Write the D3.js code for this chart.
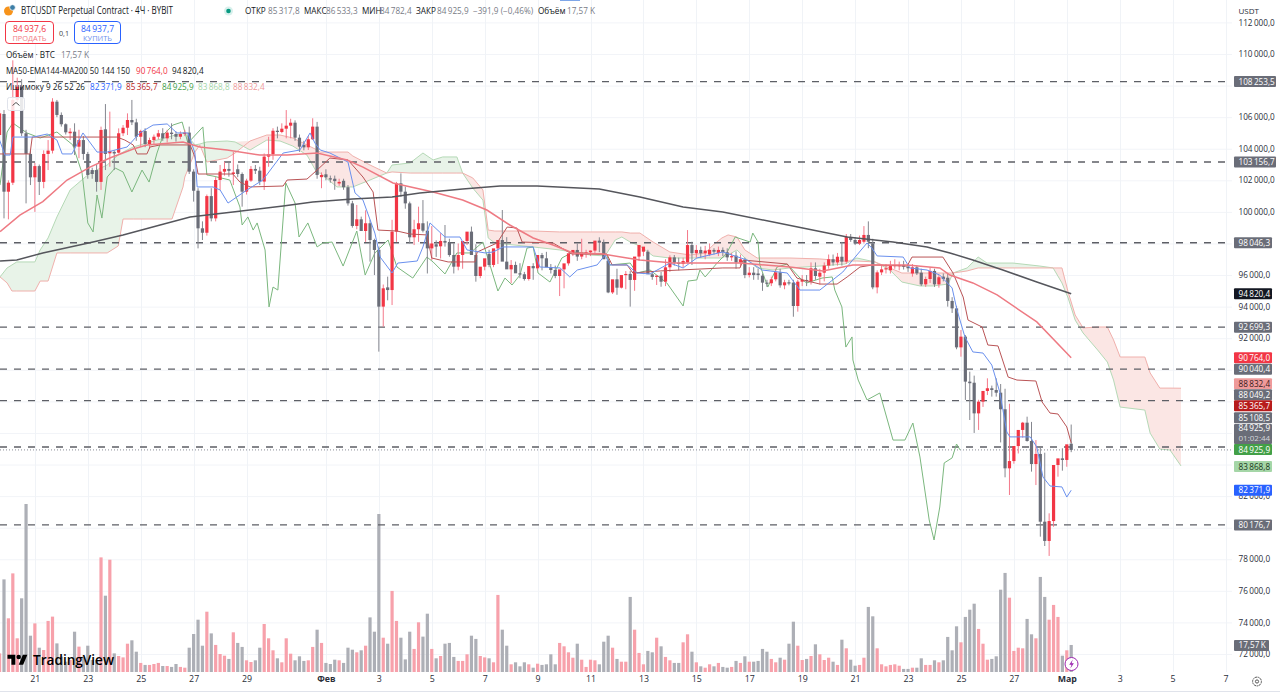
<!DOCTYPE html>
<html><head><meta charset="utf-8">
<script src="https://cdnjs.cloudflare.com/ajax/libs/d3/7.9.0/d3.min.js"></script>
<style>html,body{margin:0;padding:0;background:#fff;overflow:hidden}svg{display:block}text{font-family:"Open Sans","Noto Sans",sans-serif}</style>
</head><body><svg id="c" width="1280" height="693"></svg>
<script>
// all prices in thousands of USDT; the first entry is the bar cut by the left edge, the rest are bars 0..242 (4h)
const opens=[104.87,
106.20,101.28,101.85,107.09,107.93,104.98,103.67,102.19,102.90,101.90,
103.67,103.88,106.98,106.14,105.55,104.98,105.08,104.13,104.55,103.67,
102.65,102.65,101.90,105.23,103.71,103.80,103.75,104.98,105.33,105.82,
105.67,104.76,105.12,104.30,104.55,104.76,104.98,104.66,105.02,104.93,
104.76,104.93,105.02,102.55,101.34,98.96,98.68,101.00,99.59,102.02,
102.55,102.72,102.40,102.70,102.40,101.28,101.98,102.72,102.61,101.92,
103.50,103.65,105.14,105.06,105.27,105.46,105.65,104.70,104.24,104.09,
104.60,105.40,102.20,102.38,102.13,102.10,101.80,101.97,101.56,100.54,
99.11,99.53,98.79,99.28,98.22,97.60,94.00,95.22,95.05,98.75,
101.81,101.28,100.54,98.39,98.90,99.28,98.81,97.69,97.95,97.82,
98.16,98.05,97.27,96.53,97.27,98.16,98.75,97.27,95.94,96.53,
97.34,96.64,97.69,98.22,96.85,96.36,96.64,96.11,96.05,95.75,
96.57,96.43,97.27,97.06,96.49,96.32,95.94,96.36,96.74,97.38,
97.59,97.17,97.42,97.44,97.55,98.18,98.05,96.91,94.90,95.73,
95.20,96.00,96.07,95.69,97.17,97.48,97.48,96.05,95.88,95.96,
95.58,96.49,97.12,96.78,96.70,96.80,97.90,97.38,97.59,97.38,
97.30,97.59,97.40,97.59,97.44,97.12,97.23,96.80,96.95,96.00,
96.15,96.10,95.96,95.52,95.48,95.73,96.17,95.35,95.54,95.52,
94.04,95.58,95.69,95.60,96.43,95.90,96.15,96.60,97.00,96.80,
97.16,96.85,98.39,98.22,98.00,98.11,98.54,98.00,95.22,96.17,
96.36,96.30,96.57,96.60,96.64,96.53,96.10,96.49,96.15,95.41,
95.75,96.26,95.41,95.90,95.83,94.36,93.89,91.42,92.10,89.25,
89.18,87.24,87.98,88.66,88.83,88.72,88.55,87.50,83.76,84.22,
85.17,86.19,86.65,85.49,84.03,84.67,80.38,79.16,80.42,83.97,
84.39,84.29,85.318];
const highs=[106.45,
106.45,102.00,109.60,108.50,108.40,105.20,103.90,103.10,103.00,103.90,
104.55,107.20,107.09,106.30,105.61,105.30,105.61,105.20,104.80,103.80,
102.80,103.00,105.40,106.83,106.35,103.90,105.29,105.50,106.24,107.09,
105.90,105.20,105.30,104.70,104.90,105.19,105.30,105.20,105.61,105.10,
105.10,105.20,105.40,102.70,101.50,99.40,101.10,101.50,102.20,102.97,
103.18,103.18,103.80,103.00,102.50,102.10,102.90,102.97,102.86,103.70,
104.76,105.30,105.40,105.61,106.45,105.90,105.80,104.90,104.50,104.80,
105.93,105.70,102.50,102.70,102.30,102.30,102.10,102.10,101.70,100.70,
100.44,99.70,100.10,99.50,98.30,97.80,95.40,95.90,99.50,101.90,
102.44,101.60,100.65,99.50,100.33,100.75,99.40,99.10,98.20,98.65,
99.17,98.30,98.00,98.00,98.00,98.40,99.07,97.95,96.40,96.85,
97.60,97.00,98.00,100.12,98.40,96.95,96.85,96.75,96.20,96.20,
96.75,96.60,97.40,97.47,96.70,96.60,96.10,96.50,96.90,97.48,
98.00,98.30,97.60,97.55,97.70,98.39,98.25,97.05,95.10,96.40,
95.90,96.25,96.25,96.20,97.27,97.62,97.60,96.20,96.00,96.20,
97.00,97.25,97.27,97.10,97.10,98.85,98.11,97.90,97.80,97.85,
98.00,97.70,97.80,97.75,97.69,97.40,97.50,97.30,97.10,96.50,
96.50,96.40,96.10,95.70,95.90,96.40,96.40,95.70,95.70,95.70,
95.70,96.00,96.00,96.80,96.80,96.40,96.80,97.30,97.30,97.40,
98.10,98.60,98.60,98.40,98.50,99.10,99.40,98.30,96.30,96.60,
96.70,96.90,97.00,96.85,96.90,96.70,96.70,96.60,96.40,95.90,
96.50,96.40,96.00,96.10,96.10,94.60,94.05,92.52,92.20,89.88,
89.63,88.10,88.10,89.46,89.00,89.46,89.10,88.80,87.85,84.40,
85.35,86.70,87.03,86.70,85.55,85.13,84.75,80.91,80.60,84.18,
85.03,85.13,86.533];
const lows=[104.55,
99.59,99.53,101.70,106.90,104.80,100.54,101.70,100.00,101.07,101.50,
102.65,103.70,106.00,105.40,104.90,104.55,103.60,103.40,103.30,102.10,
102.10,101.28,101.39,102.65,102.86,102.65,103.70,104.80,104.87,105.50,
104.50,104.13,104.10,104.00,104.30,104.60,104.50,104.40,104.60,104.45,
104.60,104.80,102.40,100.65,97.69,98.22,98.50,99.40,99.40,101.39,
102.30,102.23,101.70,102.20,100.33,101.10,101.90,102.40,101.70,101.39,
102.86,103.30,104.66,104.98,104.66,104.66,104.50,103.80,103.90,103.92,
104.55,102.10,101.50,102.00,101.85,101.40,101.65,101.40,100.40,99.00,
98.90,98.80,98.10,96.85,96.00,91.15,92.73,94.40,94.10,98.10,
100.95,100.20,98.00,97.90,98.10,98.70,96.10,96.95,97.15,97.05,
97.80,97.16,96.10,96.30,96.40,97.90,97.90,95.58,95.80,96.30,
96.50,96.50,96.70,97.60,96.75,95.48,96.25,95.80,95.65,95.65,
95.70,96.30,96.30,96.60,96.10,95.80,94.67,95.16,96.60,97.20,
96.90,97.00,97.10,97.20,97.40,97.45,97.80,94.85,94.80,94.75,
95.15,95.10,94.00,95.00,96.90,97.20,96.20,95.70,95.37,95.26,
95.30,96.20,96.60,96.30,96.50,96.74,96.64,97.10,97.10,97.00,
97.20,97.30,97.20,97.20,96.90,96.90,96.40,96.50,95.80,95.85,
95.70,95.70,95.00,95.25,95.30,95.60,95.20,95.10,95.35,93.36,
93.68,95.30,95.30,95.40,95.70,95.40,95.60,96.40,96.60,96.60,
96.60,96.70,98.10,97.90,97.90,98.00,97.70,95.10,94.84,96.00,
96.10,96.10,96.40,96.30,96.35,96.20,95.90,96.00,95.30,95.25,
95.50,95.25,95.20,95.60,94.00,93.60,91.30,90.83,88.09,86.82,
86.00,86.19,87.65,88.40,88.30,88.30,85.40,83.19,82.07,84.05,
84.70,85.70,85.45,83.55,82.70,79.43,78.84,78.21,80.06,83.23,
83.61,83.86,84.782];
const closes=[106.24,
101.28,101.85,107.09,107.93,104.98,103.67,102.19,102.90,101.90,103.67,
103.88,106.98,106.14,105.55,105.04,105.08,104.13,104.55,103.67,102.34,
102.40,101.90,105.19,103.67,103.86,103.70,104.98,105.33,105.82,105.67,
104.76,105.12,104.30,104.55,104.76,104.98,104.66,105.02,104.93,104.76,
104.93,105.02,102.55,101.34,98.96,98.68,101.00,99.59,102.02,102.55,
102.72,102.60,102.50,102.40,101.28,101.98,102.72,102.61,101.92,103.50,
103.65,105.14,105.06,105.27,105.46,105.65,104.70,104.13,104.09,104.60,
105.40,102.34,102.34,102.19,102.05,101.95,101.90,101.56,100.54,99.11,
99.53,98.79,99.28,98.22,97.59,94.00,95.16,95.05,98.75,101.81,
101.28,100.54,98.39,98.90,99.28,98.81,97.69,98.00,97.80,98.16,
98.05,97.27,96.53,97.27,98.16,98.75,97.27,95.94,96.53,97.06,
96.64,97.69,98.22,96.85,96.36,96.64,96.11,96.05,95.75,96.57,
96.43,97.27,97.06,96.49,96.32,95.94,96.36,96.74,97.38,97.59,
97.17,97.42,97.44,97.55,98.18,98.05,97.00,94.90,95.73,95.20,
96.00,96.07,95.69,97.17,97.90,97.80,96.05,95.88,95.96,95.58,
96.49,97.12,96.78,96.70,96.89,97.90,97.38,97.59,97.38,97.55,
97.59,97.48,97.59,97.45,97.12,97.20,96.80,97.00,96.00,96.15,
96.00,96.00,95.52,95.48,95.73,96.17,95.35,95.54,95.50,94.04,
95.58,95.69,95.62,96.43,95.94,96.15,96.60,97.00,96.80,97.16,
96.85,98.43,98.22,98.00,98.22,98.54,98.11,95.22,96.17,96.36,
96.43,96.57,96.64,96.64,96.53,96.43,96.49,96.11,95.41,95.75,
96.26,95.41,95.86,95.75,94.36,93.89,91.42,92.10,89.25,89.15,
87.24,87.98,88.66,88.83,88.72,88.55,87.50,83.76,84.22,85.17,
86.19,86.65,85.49,84.03,84.67,80.38,79.16,80.42,83.97,84.39,
84.29,85.28,84.926];
const volumes=[12.1,
60.2,34.9,64.1,21.9,47.9,109.2,23.6,31.6,15.8,14.3,
33.2,36.0,18.6,10.0,6.7,7.8,26.2,16.5,10.0,17.1,
7.8,7.8,74.5,49.6,73.0,12.1,10.4,9.5,18.4,20.6,
13.2,5.9,4.6,4.6,5.2,5.9,3.9,3.9,3.3,5.2,
3.3,2.8,15.8,24.7,34.0,17.1,39.2,25.1,17.6,11.7,
10.6,8.5,25.8,18.9,16.3,7.6,6.5,7.6,15.8,31.2,
21.9,14.1,8.9,6.3,21.9,11.9,7.6,10.2,7.2,7.6,
16.3,27.5,18.9,5.9,5.2,8.0,7.6,5.9,15.8,14.5,
12.8,14.1,17.1,35.5,26.2,102.7,22.3,18.4,52.7,33.2,
22.3,8.2,26.2,15.0,32.3,23.0,37.9,15.0,8.9,10.4,
18.4,18.9,9.8,7.2,7.2,11.5,23.6,21.5,10.4,9.5,
8.9,6.3,50.1,27.5,17.1,5.0,6.3,3.7,6.3,5.0,
2.8,5.4,4.6,5.0,11.5,5.0,18.9,16.7,12.8,9.3,
18.4,8.0,3.3,8.0,7.6,5.0,19.7,23.6,15.8,8.5,
6.7,6.7,48.8,27.5,12.4,5.0,13.7,12.8,22.3,16.7,
9.8,7.6,5.9,5.9,19.3,24.5,13.2,6.3,3.7,2.8,
5.0,3.7,5.9,3.3,2.8,3.3,7.2,5.9,10.2,6.7,
6.7,7.2,15.0,13.2,8.5,6.3,9.3,8.0,18.4,32.7,
17.1,7.8,8.5,10.4,18.0,11.5,7.8,9.3,6.7,4.6,
21.0,15.4,8.0,4.1,4.6,9.3,42.3,36.2,15.4,5.0,
3.7,4.6,5.0,4.1,2.0,2.0,2.8,2.8,8.9,4.6,
4.6,7.6,6.3,7.6,22.8,14.1,29.7,19.3,35.8,40.5,
44.4,28.0,18.4,8.0,8.5,10.2,53.5,64.4,48.3,13.7,
15.8,15.4,34.5,24.5,21.9,61.8,48.8,34.0,43.6,35.8,
10.6,14.1,17.57];

const ma50Idx=[-0.9,3.6,8.8,14.3,19.5,24,29.3,32.4,40.6,44.4,50.6,58,64.2,71,77.8,81.4,88.2,97.3,104,109.5,114.7,120,124.5,129,135.8,141.3,144.2,151.7,166.9,178.2,185.7,192.5,204.8,212.2,214.5,219.7,225.2,234.2,242];
const ma50Val=[98.75,99.80,100.65,102.02,102.84,103.41,103.98,104.24,104.43,104.11,103.92,103.60,103.60,103.73,103.29,102.84,101.83,101.26,100.75,100.12,99.17,98.35,97.90,97.40,97.33,97.08,96.95,96.76,96.76,96.51,96.26,96.64,96.64,96.45,96.00,95.50,94.74,93.03,90.764];
const ema144Idx=[-0.9,2.9,8.8,20.2,27,35.4,42.2,51.9,63.3,70,79,88,94.3,104,112.5,120.9,135,144.2,154,163,174.4,191.2,201.6,209.3,214.5,219.7,226.5,234.2,242];
const ema144Val=[96.89,96.95,97.40,98.09,98.54,99.17,99.68,99.99,100.37,100.63,100.82,100.94,101.20,101.45,101.64,101.64,101.45,100.94,100.31,99.99,99.36,98.41,98.09,97.78,97.40,96.95,96.32,95.56,94.8204];
const tenkanIdx=[-1,0.2,1.4,2,6.6,9.8,12,13.2,15.4,17.9,21.1,23.4,27.9,30.8,33.8,37,39.2,41.7,43.3,43.8,47.4,49,50.8,55.1,58.7,63.3,67.1,69.4,70.5,71.7,73.9,78,79.6,81.4,84.1,85.3,88,89.3,93.7,95,96.6,100,103.4,105,109.1,110.9,113.2,120,121.5,126.1,128.3,130,134.5,136.3,137.4,141.3,143.5,146.5,151,154,157.1,163,168.5,171.9,177.6,180.5,185,190.2,193.4,195.7,196.8,198,203.9,205.4,209.3,212.2,215,216.1,217.9,219.7,222,224,225.8,227.4,228.1,232.7,234.2,235.6,237.2,239.9,241,242];
const tenkanVal=[104.55,103.60,103.60,104.74,104.74,104.93,104.55,103.67,103.67,105.00,103.79,103.79,104.11,105.00,105.50,105.57,105.00,105.00,103.73,101.58,101.58,101.39,100.56,101.39,102.02,103.73,103.92,105.00,104.36,103.92,103.73,103.16,101.20,100.75,98.66,97.14,96.13,96.76,96.89,97.78,99.30,98.41,98.41,97.59,97.40,97.46,97.78,97.78,96.51,96.45,95.88,96.32,96.64,97.27,96.64,96.64,96.13,96.07,96.76,96.45,97.08,97.46,96.95,96.32,96.13,95.05,95.05,96.19,97.27,98.03,97.71,97.21,97.14,96.45,96.32,96.00,95.18,93.79,92.08,91.13,91.06,90.30,88.59,86.06,85.75,85.75,85.11,83.21,82.64,82.58,81.94,82.3719];
const kijunIdx=[-1,5.9,6.4,25.6,27.4,29.3,30.2,32.4,33.1,35.4,42.2,43.3,44,51.9,53.5,55.8,63.3,64.2,68.7,71,73.9,78,81.4,83.7,84.8,89.1,92.1,95.9,97,100.7,106.8,107.3,111.8,114.1,116.3,117.5,124.5,128.8,136.7,137.9,141.3,142.6,148.8,163,166.9,167.6,177.6,179.8,181.2,185,188.9,191.2,194.1,197,204.8,205.9,212.9,215.2,217.5,218.6,221.8,223.1,225.4,227.7,229.7,234,235.4,237.2,239,241,242];
const kijunVal=[103.67,103.67,104.74,104.74,104.55,104.24,103.67,103.67,104.11,104.24,104.24,103.48,102.40,102.40,101.89,101.58,101.64,102.02,102.08,102.65,103.41,103.29,102.21,101.26,98.85,98.79,98.60,98.54,97.08,96.83,96.83,97.46,98.03,99.04,98.98,98.09,98.03,97.33,97.33,96.64,96.64,96.13,96.26,96.45,96.45,96.95,96.70,95.81,95.69,95.43,95.43,95.88,96.51,96.64,96.57,97.14,97.14,96.13,94.61,93.15,92.71,91.57,91.51,89.54,89.35,89.29,87.96,87.26,87.20,86.38,85.3657];
const chikouIdx=[-0.9,0.7,2,5.2,8.2,12,15.6,17.7,19,20.2,21.1,22.2,23.4,25.2,27,29,31.3,32.9,34.7,36.1,38.3,40.4,41.7,45.1,46,47.4,51.2,53.5,54,55.3,56.5,57.4,59.2,60.1,61,62.1,63.9,66,66.9,68.9,71,72.3,74.4,76.9,80,81.9,84.1,87.1,89.1,92.7,95.9,97.3,100,102.7,105.7,108.6,112,113.6,115.2,117,118.6,120,121.1,123.8,126.5,129,136.7,137.4,142,143.5,146.5,150.3,154,155.1,157.1,157.8,159,161.7,163.9,165.8,169.2,169.8,171,171.4,173.2,175.3,177.6,180.5,182,185.5,187.8,188.4,190,190.9,192.3,192.5,193.7,195.7,198.6,201.6,204.3,206.1,207.7,209.8,210.9,212.2,213.2,215,216,216.8];
const chikouVal=[101.70,105.06,105.63,105.00,104.68,105.06,104.24,102.46,99.30,98.73,101.07,99.61,102.21,102.78,102.53,101.26,102.65,101.89,103.73,104.87,105.50,105.69,104.36,105.38,102.34,102.27,102.02,100.31,99.17,99.68,98.85,99.30,97.59,93.98,95.24,95.05,101.83,100.56,98.41,99.30,97.78,98.03,98.09,96.57,98.79,96.00,97.40,98.22,96.51,95.81,97.14,96.83,96.07,97.40,97.40,98.09,94.99,95.81,95.37,96.00,97.71,97.78,96.13,95.56,97.08,97.46,97.27,96.64,96.76,96.13,96.32,95.50,94.04,95.62,95.69,96.32,95.88,96.76,97.40,98.41,98.09,98.66,98.09,96.64,95.24,96.51,96.70,95.81,95.50,95.81,95.88,95.05,93.98,91.44,92.08,90.62,89.35,88.09,88.53,85.55,85.55,86.63,84.48,80.49,79.22,81.31,84.10,84.42,85.30,84.9259];
const cloudIdx=[-0.9,0.7,1.8,2.9,7,8.2,10,12,15,19.5,23.4,25.9,27,29.3,34.7,38.1,40.6,41,43.3,44.4,46,50.6,52.4,55.8,59.6,62.6,65.5,68.7,71,71.7,75.5,78,79.1,83,86.8,88,92.1,95,97.3,99.5,102.7,104,106.3,108.6,109.8,111.3,120,126,132.9,136.3,138.6,140.1,142,144.2,147.2,151,155.6,159,160.8,162.8,164.2,166.2,168,170.8,174.4,178.2,185,190.7,193.4,197.5,200.9,203.6,207.7,210.7,214.1,215.2,218.4,220.9,222.9,228.8,234.9,237.9,239.9,241.3,242.9,244.7,248,250.2,251.6,253.1,258.7,259.9,262.1,264.4,266.9];
const spanA=[95.88,96.45,96.64,96.83,96.83,97.59,98.35,99.68,101.39,102.46,102.97,103.60,103.79,104.11,104.55,104.81,105.00,105.00,104.24,104.30,104.43,104.49,104.43,103.92,104.55,104.49,104.17,103.60,102.46,102.46,101.58,101.58,101.58,102.02,102.46,102.97,103.10,103.73,103.29,103.48,103.48,102.46,101.51,100.75,98.35,98.03,97.78,97.59,97.27,97.21,98.22,98.41,98.09,97.84,97.21,97.08,97.08,97.08,97.08,97.08,97.27,97.59,97.08,96.45,96.32,96.45,96.57,96.70,97.08,96.83,96.32,95.56,95.31,95.31,95.43,96.13,96.45,97.14,96.76,96.76,96.57,96.45,95.50,94.55,93.15,92.33,91.25,90.49,89.35,87.64,87.45,85.99,84.98,84.92,83.91];
const spanB=[95.88,95.50,94.99,94.99,94.99,95.62,95.62,97.40,97.40,97.40,97.40,97.84,99.55,99.55,99.55,99.55,101.58,102.21,103.79,104.24,103.16,103.41,103.73,104.49,104.87,104.87,104.68,104.24,103.92,103.79,103.79,103.79,103.54,102.97,102.46,102.53,102.46,102.46,102.46,102.46,102.46,102.46,102.15,101.39,98.85,98.79,98.79,98.73,98.73,98.73,98.73,98.73,98.66,98.66,98.09,97.46,97.27,97.40,97.90,98.35,98.54,98.41,97.59,97.08,97.08,97.08,97.02,96.89,96.89,96.83,96.45,96.13,96.13,96.13,96.13,96.13,96.26,96.45,96.45,96.45,96.45,96.45,96.45,94.93,93.47,92.65,92.71,92.71,91.89,90.81,90.81,89.80,88.84,88.84,88.8324];

const dashedLevels=[108.2535,103.1567,98.0463,92.6993,90.0404,88.0492,85.1085,80.1767];
const lastClose=84.9259;
const priceTicks=[112,110,106,104,102,100,96,94,92,82,78,76,74,72];
const gridTicks=[112,110,108,106,104,102,100,98,96,94,92,90,88,86,84,82,80,78,76,74,72];
const dateTickIdx=[7,19,31,43,55,73,85,97,109,121,133,145,157,169,181,193,205,217,229,241,253,265,277];
const dateTickLabels=["21","23","25","27","29","Фев","3","5","7","9","11","13","15","17","19","21","23","25","27","Мар","3","5","7"];
const tagPrices=[108.2535,103.1567,98.0463,94.8204,92.6993,90.764,90.0404,88.8324,88.0492,85.3657,85.1085,84.9259,83.8688,82.3719,80.1767];
const tagFills=["#6a6d78","#6a6d78","#6a6d78","#131722","#6a6d78","#f23645","#6a6d78","#ef9a9a","#6a6d78","#b71c1c","#6a6d78","#43a047","#a5d6a7","#2962ff","#6a6d78"];
const tagInks=["#fff","#fff","#fff","#fff","#fff","#fff","#fff","#3a1a1a","#fff","#fff","#fff","#fff","#1b3a1c","#fff","#fff"];
const UP="#f23645",DOWN="#6a6d78",UPV="#f7a1ab",DOWNV="#adafb6";

const svg=d3.select("#c");
const W=1280,H=693,plotR=1232;
const x=d3.scaleLinear().domain([0,242]).range([4,1071.2]);
const y=d3.scaleLinear().domain([72,110]).range([654,54]);
const yV=d3.scaleLinear().domain([0,109.2]).range([672,504]);
const loc=d3.formatLocale({decimal:",",thousands:"\u2009",grouping:[3],currency:["",""]});
const fmt=v=>loc.format(",.1f")(v*1000);
svg.append("rect").attr("width",W).attr("height",H).attr("fill","#fff");
svg.append("defs").append("clipPath").attr("id","pl").append("rect").attr("width",plotR).attr("height",672);
// grid
const g=svg.append("g");
g.selectAll(".gh").data(gridTicks).join("line").attr("x1",0).attr("x2",plotR).attr("y1",d=>y(d)+.5).attr("y2",d=>y(d)+.5).attr("stroke","#f2f4f8");
g.selectAll(".gv").data(dateTickIdx).join("line").attr("x1",d=>Math.round(x(d))+.5).attr("x2",d=>Math.round(x(d))+.5).attr("y1",0).attr("y2",672).attr("stroke","#f0f3f7");
// volume (row r is bar r-1)
const rows=d3.range(opens.length);
const X=r=>x(r-1);
const isUp=r=>closes[r]>=opens[r];
svg.append("g").selectAll("rect").data(rows).join("rect")
 .attr("x",r=>X(r)-1.6).attr("width",3.2).attr("y",r=>yV(volumes[r])).attr("height",r=>yV(0)-yV(volumes[r]))
 .attr("fill",r=>isUp(r)?UPV:DOWNV);
// cloud
const cloud=cloudIdx.map((d,i)=>({i:d,a:spanA[i],b:spanB[i]}));
const plot=svg.append("g").attr("clip-path","url(#pl)");
plot.append("path").attr("fill","#e8f3e8").attr("d",d3.area().x(d=>x(d.i)).y0(d=>y(d.b)).y1(d=>y(Math.max(d.a,d.b)))(cloud));
plot.append("path").attr("fill","#fbe6e4").attr("d",d3.area().x(d=>x(d.i)).y0(d=>y(d.a)).y1(d=>y(Math.max(d.a,d.b)))(cloud));
const ln=d3.line().x(d=>x(d[0])).y(d=>y(d[1]));
const pairs=(a,b)=>a.map((d,i)=>[d,b[i]]);
plot.append("path").attr("fill","none").attr("stroke","#b5d9b6").attr("d",ln(pairs(cloudIdx,spanA)));
plot.append("path").attr("fill","none").attr("stroke","#f0b0ac").attr("d",ln(pairs(cloudIdx,spanB)));
// levels
plot.selectAll(".lv").data(dashedLevels).join("line").attr("x1",0).attr("x2",plotR).attr("y1",d=>y(d)).attr("y2",d=>y(d))
 .attr("stroke","#5d5f66").attr("stroke-width",1.4).attr("stroke-dasharray","7 7");
plot.append("line").attr("x1",0).attr("x2",plotR).attr("y1",y(lastClose)).attr("y2",y(lastClose)).attr("stroke","#8a8d96").attr("stroke-dasharray","1 2");
// lagging span under candles
plot.append("path").attr("fill","none").attr("stroke","#7bb77e").attr("stroke-width",1).attr("d",ln(pairs(chikouIdx,chikouVal)));
// candles
const c=plot.append("g");
c.selectAll(".w").data(rows).join("line").attr("x1",r=>X(r)).attr("x2",r=>X(r)).attr("y1",r=>y(highs[r])).attr("y2",r=>y(lows[r]))
 .attr("stroke",r=>isUp(r)?"#f4798a":"#85878f").attr("stroke-width",1);
c.selectAll(".b").data(rows).join("rect").attr("x",r=>X(r)-1.6).attr("width",3.2)
 .attr("y",r=>Math.min(y(opens[r]),y(closes[r]))).attr("height",r=>Math.max(1.2,Math.abs(y(opens[r])-y(closes[r]))))
 .attr("fill",r=>isUp(r)?UP:DOWN);
// indicator lines
plot.append("path").attr("fill","none").attr("stroke","#ba5456").attr("stroke-width",1).attr("d",ln(pairs(kijunIdx,kijunVal)));
plot.append("path").attr("fill","none").attr("stroke","#6a90ee").attr("stroke-width",1).attr("d",ln(pairs(tenkanIdx,tenkanVal)));
plot.append("path").attr("fill","none").attr("stroke","#ee7a83").attr("stroke-width",1.5).attr("d",ln(pairs(ma50Idx,ma50Val)));
plot.append("path").attr("fill","none").attr("stroke","#55565c").attr("stroke-width",1.5).attr("d",ln(pairs(ema144Idx,ema144Val)));
// axes
const LX=1238.5, TFS=8.2;
const ax=svg.append("g").attr("transform",`translate(${LX},0)`).call(d3.axisLeft(y).tickValues(priceTicks).tickFormat(fmt).tickSize(0).tickPadding(0));
ax.select(".domain").remove();
ax.selectAll("text").attr("font-size",TFS).attr("fill","#2a2e39").attr("text-anchor","start").attr("x",0);
const bx=svg.append("g").attr("transform","translate(0,676)").call(d3.axisBottom(x).tickValues(dateTickIdx).tickFormat((d,i)=>dateTickLabels[i]).tickSize(0).tickPadding(0));
bx.select(".domain").remove();
bx.selectAll("text").attr("font-size",8.8).attr("fill","#2a2e39").attr("dy","0.71em")
 .attr("font-weight",(d,i)=>/[А-Я]/.test(dateTickLabels[i])?700:400);
svg.append("line").attr("x1",0).attr("x2",W).attr("y1",691.5).attr("y2",691.5).attr("stroke","#e0e3eb");
// price tags; close-together tags are stacked the way the platform stacks them
const stackedY={88.8324:383.7,88.0492:394.7,85.3657:405.7,85.1085:417.7,84.9259:449.5};
tagPrices.forEach((p,i)=>{
 const yy=stackedY[p]??y(p), t=fmt(p), w=t.length>8?42:38;
 svg.append("rect").attr("x",1234).attr("y",yy-5.5).attr("width",w).attr("height",11).attr("rx",1).attr("fill",tagFills[i]);
 svg.append("text").attr("x",LX).attr("y",yy+3).attr("font-size",TFS).attr("fill",tagInks[i]).text(t);
});
svg.append("rect").attr("x",1234).attr("y",424).attr("width",38).attr("height",20).attr("rx",1).attr("fill","#6a6d78");
svg.append("text").attr("x",LX).attr("y",431).attr("font-size",TFS).attr("fill","#fff").text(fmt(lastClose));
svg.append("text").attr("x",LX).attr("y",441).attr("font-size",8).attr("fill","#d5d6da").text("01:02:44");
svg.append("rect").attr("x",1234).attr("y",yV(17.57)-5).attr("width",35).attr("height",11).attr("rx",1).attr("fill","#6a6d78");
svg.append("text").attr("x",LX).attr("y",yV(17.57)+3.5).attr("font-size",TFS).attr("fill","#fff").text("17,57\u2009K");
svg.append("text").attr("x",LX).attr("y",14).attr("font-size",8).attr("fill","#2a2e39").text("USDT");
svg.append("rect").attr("x",560).attr("y",0).attr("width",20).attr("height",1).attr("fill","#7ea6e8");
// header
const th=s=>s.replace(/(\d) (\d)/g,"$1\u2009$2");
const T=(xx,yy,t,fs,col,extra={})=>{const s=svg.append("text").attr("x",xx).attr("y",yy).attr("font-size",fs).attr("fill",col).text(extra.raw?t:th(t));Object.entries(extra).filter(([k])=>k!=="raw").forEach(([k,v])=>s.attr(k,v));return s;};
svg.append("circle").attr("cx",8.5).attr("cy",11).attr("r",4.5).attr("fill","#f7931a");
svg.append("circle").attr("cx",12.5).attr("cy",7.5).attr("r",2.8).attr("fill","#3d7ea6").attr("stroke","#fff").attr("stroke-width",.7);
T(21,14,"BTCUSDT Perpetual Contract · 4Ч · BYBIT",11,"#131722",{textLength:152,lengthAdjust:"spacingAndGlyphs"});
svg.append("circle").attr("cx",228.5).attr("cy",11).attr("r",4.5).attr("fill","#d8f0ec");
svg.append("circle").attr("cx",228.5).attr("cy",11).attr("r",2.3).attr("fill","#089981");
const col="#131722",gr="#787b86",fs=8.2;
T(245,14,"ОТКР",fs,col);T(268,14,"85 317,8",fs,gr);T(304,14,"МАКС",fs,col);T(326,14,"86 533,3",fs,gr);
T(362,14,"МИН",fs,col);T(380,14,"84 782,4",fs,gr);T(416,14,"ЗАКР",fs,col);T(437,14,"84 925,9",fs,gr);
T(473,14,"−391,9 (−0,46%)",fs,gr);T(538,14,"Объём",fs,col);T(567,14,"17,57 K",fs,gr);
svg.append("rect").attr("x",5.5).attr("y",21.5).attr("width",48).attr("height",22).attr("rx",3.5).attr("fill","#fff").attr("stroke","#f23645");
T(29.5,32,"84 937,6",8.6,"#f23645",{"text-anchor":"middle"});T(29.5,41,"ПРОДАТЬ",7.4,"#f27a86",{"text-anchor":"middle"});
T(59,36,"0,1",7.2,"#444");
svg.append("rect").attr("x",74.5).attr("y",21.5).attr("width",46).attr("height",22).attr("rx",3.5).attr("fill","#fff").attr("stroke","#2962ff");
T(97.5,32,"84 937,7",8.6,"#2962ff",{"text-anchor":"middle"});T(97.5,41,"КУПИТЬ",7.4,"#6f90ee",{"text-anchor":"middle"});
T(6,58,"Объём · BTC",fs,col);T(61,58,"17,57 K",fs,gr);
T(6,74,"MA50-EMA144-MA200 50 144 150",fs,col,{raw:true,textLength:124,lengthAdjust:"spacingAndGlyphs"});T(136,74,"90 764,0",fs,"#f23645");T(172,74,"94 820,4",fs,col);
T(6,90,"Ишимоку 9 26 52 26",fs,col,{raw:true,textLength:79,lengthAdjust:"spacingAndGlyphs"});T(90,90,"82 371,9",fs,"#2962ff");T(126,90,"85 365,7",fs,"#b71c1c");
T(162,90,"84 925,9",fs,"#43a047");T(198,90,"83 868,8",fs,"#a5d6a7");T(233,90,"88 832,4",fs,"#ef9a9a");
// collapse button
svg.append("rect").attr("x",7.5).attr("y",97.5).attr("width",17).attr("height",13).attr("rx",2).attr("fill","#fff").attr("fill-opacity",.85).attr("stroke","#e0e3eb");
svg.append("path").attr("d","M12.5 105.5l3.5-3 3.5 3").attr("fill","none").attr("stroke","#555");
// watermark
const wm=svg.append("g").attr("transform","translate(7.5,652.5) scale(.56)");
wm.append("path").attr("d","M14 22H7V11H0V4h14v18zM28 22h-8l7.5-18h8L28 22z").attr("fill","#000");
wm.append("circle").attr("cx",20).attr("cy",8).attr("r",4).attr("fill","#000");
T(33,664.5,"TradingView",14.6,"#000",{"font-weight":600,textLength:81,lengthAdjust:"spacingAndGlyphs"});
// bolt badge
svg.append("circle").attr("cx",1071.5).attr("cy",664).attr("r",6.5).attr("fill","#fff").attr("stroke","#9c27b0");
svg.append("path").attr("d","M1072.8 659.5l-3.6 5.2h2.3l-1.2 3.8 3.6-5.2h-2.3z").attr("fill","#9c27b0");
// gear
svg.append("circle").attr("cx",1257).attr("cy",681.5).attr("r",4.4).attr("fill","none").attr("stroke","#555").attr("stroke-dasharray","2 .6");
svg.append("circle").attr("cx",1257).attr("cy",681.5).attr("r",1.6).attr("fill","none").attr("stroke","#555");
</script></body></html>
